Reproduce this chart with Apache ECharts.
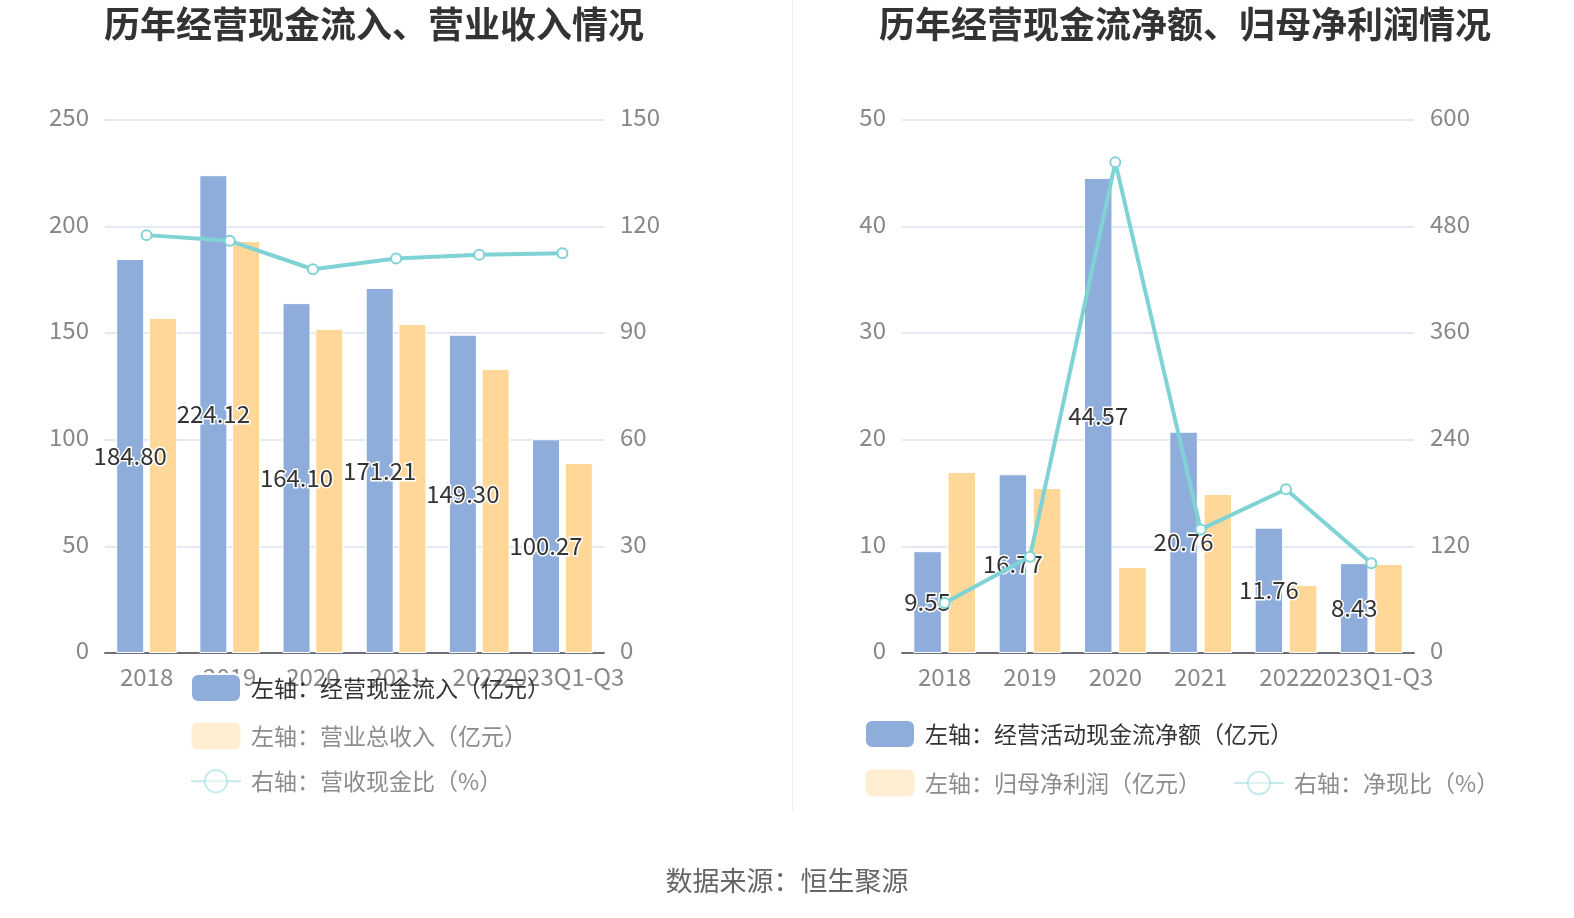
<!DOCTYPE html>
<html><head><meta charset="utf-8">
<script src="https://cdn.jsdelivr.net/npm/echarts@6/dist/echarts.min.js"></script>
<style>html,body{margin:0;padding:0;background:#fff}#c{width:1574px;height:918px}</style>
</head><body><div id="c"></div>
<script>
const categories = ['2018','2019','2020','2021','2022','2023Q1-Q3'];
const cashInflow = [184.80,224.12,164.10,171.21,149.30,100.27];
const revenue = [157.2,193.2,152.0,154.3,133.2,89.1];
const revenueCashRatio = [117.6,116.0,108.0,111.0,112.1,112.5];
const netCashFlow = [9.55,16.77,44.57,20.76,11.76,8.43];
const netProfit = [16.98,15.48,8.07,14.92,6.38,8.35];
const netCashRatio = [56.2,108.3,552.3,139.1,184.3,101.0];

const leftTicks = {min:0,max:250,interval:50};
const leftRightTicks = {min:0,max:150,interval:30};
const rightTicks = {min:0,max:50,interval:10};
const rightRightTicks = {min:0,max:600,interval:120};

const names = {
  a1:'左轴：经营现金流入（亿元）', a2:'左轴：营业总收入（亿元）', a3:'右轴：营收现金比（%）',
  b1:'左轴：经营活动现金流净额（亿元）', b2:'左轴：归母净利润（亿元）', b3:'右轴：净现比（%）'
};

const FONT = '"Noto Sans CJK SC", "Noto Sans", sans-serif';
const BLUE = '#8eaddb', ORANGE = '#ffd899', CYAN = '#7fd3d5';
const axisLabelColor = '#888';

function xAxis(gi){
  return {type:'category', gridIndex:gi, data:categories,
    axisLine:{lineStyle:{color:'#6e7079', width:2}},
    axisTick:{alignWithLabel:true, length:8, lineStyle:{color:'#6e7079', width:2}},
    axisLabel:{interval:0, hideOverlap:false, color:axisLabelColor, fontSize:24, fontFamily:FONT, margin:12}};
}
function yAxis(gi, t, pos, split){
  return {type:'value', gridIndex:gi, position:pos, min:t.min, max:t.max, interval:t.interval,
    axisLine:{show:false}, axisTick:{show:false},
    axisLabel:{color:axisLabelColor, fontSize:24, fontFamily:FONT, margin:16,
      formatter:v=>'{a|'+v+'}',
      rich:{a:{color:axisLabelColor, fontSize:24, fontFamily:FONT, padding:[0,0,6,0]}}},
    splitLine:{show:split, lineStyle:{color:'#e3e8f3', width:2}}};
}
const barLabel = {show:true, position:'inside', color:'#333', fontSize:24, fontFamily:FONT,
  textBorderColor:'#fff', textBorderWidth:3, formatter:p=>p.value.toFixed(2)};
const dim = {textStyle:{color:'#8c8c8c'}, itemStyle:{opacity:0.45}, lineStyle:{opacity:0.45}};
function barItem(n, active){
  return active ? {name:n, icon:'roundRect', textStyle:{color:'#333'}}
                : Object.assign({name:n, icon:'roundRect'}, dim);
}
function lineItem(n){ return Object.assign({name:n}, dim); }
const legendBase = {itemWidth:50, itemHeight:28, itemGap:18, padding:0,
  textStyle:{fontSize:23, fontFamily:FONT, padding:[0,0,0,5]}, selectedMode:false};

const option = {
  animation:false,
  title:[
    {text:'历年经营现金流入、营业收入情况', left:104, top:6, padding:0,
      textStyle:{fontSize:36, fontWeight:'bold', color:'#333', fontFamily:FONT}},
    {text:'历年经营现金流净额、归母净利润情况', left:879, top:6, padding:0,
      textStyle:{fontSize:36, fontWeight:'bold', color:'#333', fontFamily:FONT}},
    {text:'数据来源：恒生聚源', left:'center', top:867, padding:0,
      textStyle:{fontSize:27, fontWeight:'normal', color:'#666', fontFamily:FONT}}
  ],
  graphic:[{type:'line', shape:{x1:792.5,y1:0,x2:792.5,y2:812}, style:{stroke:'#eeeeee', lineWidth:1}}],
  legend:[
    Object.assign({}, legendBase, {orient:'vertical', left:190, top:673,
      data:[barItem(names.a1,true), barItem(names.a2,false), lineItem(names.a3)]}),
    Object.assign({}, legendBase, {orient:'horizontal', left:864, top:719, data:[barItem(names.b1,true)]}),
    Object.assign({}, legendBase, {orient:'horizontal', left:864, top:768, itemGap:32,
      data:[barItem(names.b2,false), lineItem(names.b3)]})
  ],
  grid:[
    {left:105, right:970, top:120, bottom:265},
    {left:902, right:160, top:120, bottom:265}
  ],
  xAxis:[xAxis(0), xAxis(1)],
  yAxis:[yAxis(0,leftTicks,'left',true), yAxis(0,leftRightTicks,'right',false),
         yAxis(1,rightTicks,'left',true), yAxis(1,rightRightTicks,'right',false)],
  series:[
    {name:names.a1, type:'bar', xAxisIndex:0, yAxisIndex:0, data:cashInflow, barWidth:28, barGap:'17%',
      itemStyle:{color:BLUE, borderColor:'#fff', borderWidth:1}, label:barLabel, z:2},
    {name:names.a2, type:'bar', xAxisIndex:0, yAxisIndex:0, data:revenue, barWidth:28, barGap:'17%',
      itemStyle:{color:ORANGE, borderColor:'#fff', borderWidth:1}, z:2},
    {name:names.a3, type:'line', xAxisIndex:0, yAxisIndex:1, data:revenueCashRatio, symbol:'emptyCircle', symbolSize:10,
      lineStyle:{color:CYAN, width:4}, itemStyle:{color:CYAN, borderWidth:3}, z:5},
    {name:names.b1, type:'bar', xAxisIndex:1, yAxisIndex:2, data:netCashFlow, barWidth:28.5, barGap:'20%',
      itemStyle:{color:BLUE, borderColor:'#fff', borderWidth:1}, label:barLabel, z:2},
    {name:names.b2, type:'bar', xAxisIndex:1, yAxisIndex:2, data:netProfit, barWidth:28.5, barGap:'20%',
      itemStyle:{color:ORANGE, borderColor:'#fff', borderWidth:1}, z:2},
    {name:names.b3, type:'line', xAxisIndex:1, yAxisIndex:3, data:netCashRatio, symbol:'emptyCircle', symbolSize:10,
      lineStyle:{color:CYAN, width:4}, itemStyle:{color:CYAN, borderWidth:3}, z:5}
  ]
};
const chart = echarts.init(document.getElementById('c'), null, {renderer:'canvas'});
chart.setOption(option);
</script>
</body></html>
